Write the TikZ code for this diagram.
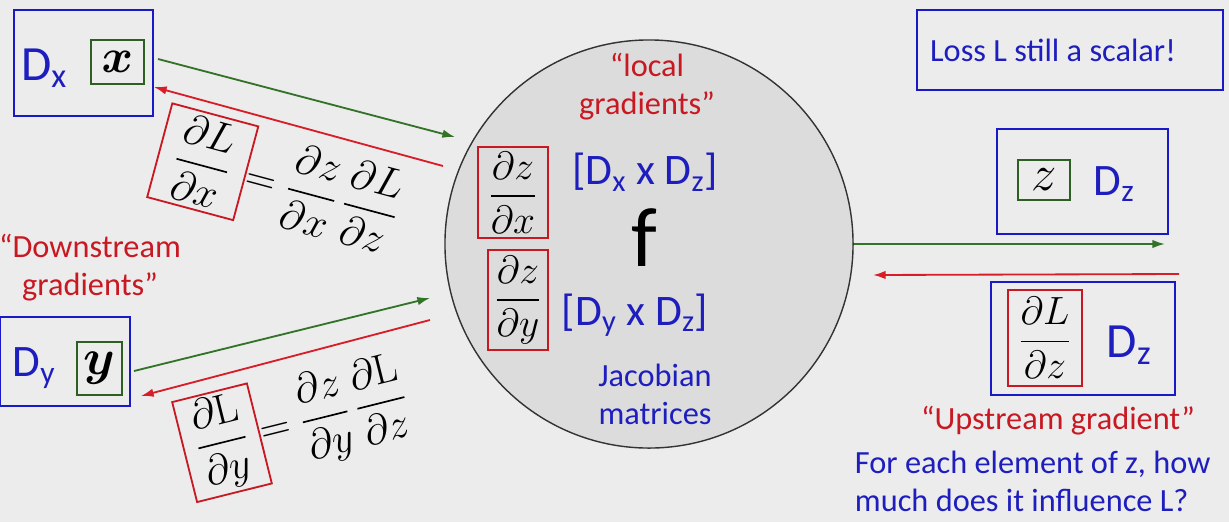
\RequirePackage{fix-cm}
\documentclass[tikz,border=0pt]{standalone}
\usepackage{amsmath,amssymb}
\usepackage[no-math]{fontspec}
\setmainfont{Carlito}
\usetikzlibrary{arrows.meta,calc,positioning}
\definecolor{SlideGray}{RGB}{236,236,236}
\definecolor{CircleGray}{RGB}{220,220,220}
\definecolor{DimBlue}{RGB}{25,25,200}
\definecolor{TextBlue}{RGB}{30,30,190}
\definecolor{GradRed}{RGB}{200,25,35}
\definecolor{VecGreen}{RGB}{45,95,35}
\definecolor{ArrowGreen}{RGB}{50,115,40}
\definecolor{ArrowRed}{RGB}{215,30,40}

\begin{document}
\begin{tikzpicture}[x=0.025cm,y=-0.025cm,
  dimbox/.style={draw=DimBlue,line width=1.4pt,inner sep=0pt},
  vecbox/.style={draw=VecGreen,line width=1.3pt,inner sep=0pt},
  gradbox/.style={draw=GradRed,line width=1.3pt,inner sep=0pt},
  bluetext/.style={text=TextBlue,font=\fontsize{23}{27}\selectfont,align=center},
  redtext/.style={text=GradRed,font=\fontsize{23}{27}\selectfont,align=center},
  fwd/.style={draw=ArrowGreen,line width=1.3pt,-{Latex[length=9pt,width=6pt]}},
  bwd/.style={draw=ArrowRed,line width=1.3pt,-{Latex[length=9pt,width=6pt]}},
  mathbig/.style={font=\fontsize{30}{34}\selectfont},
  mathmid/.style={font=\fontsize{28}{32}\selectfont}]
\fill[SlideGray] (0,0) rectangle (1229,522);
\useasboundingbox (0,0) rectangle (1229,522);

\node[circle,draw=black!80,fill=CircleGray,line width=1pt,minimum size=10.2cm,inner sep=0pt] (fnode) at (649,244) {};
\node[font=\fontsize{60}{64}\selectfont] (flab) at (644,238) {f};
\node[redtext] (localg) at (647,87) {“local\\gradients”};
\node[gradbox,mathmid,minimum width=1.75cm,minimum height=2.275cm] (dzdx) at (513,192.5) {$\dfrac{\partial z}{\partial x}$};
\node[gradbox,mathmid,minimum width=1.5cm,minimum height=2.5cm] (dzdy) at (518,300) {$\dfrac{\partial z}{\partial y}$};
\node[bluetext,font=\fontsize{31}{34}\selectfont] (jacx) at (645,172) {[D\textsubscript{x} x D\textsubscript{z}]};
\node[bluetext,font=\fontsize{31}{34}\selectfont] (jacy) at (635,315) {[D\textsubscript{y} x D\textsubscript{z}]};
\node[bluetext] (jacname) at (655,394) {Jacobian\\matrices};

\node[dimbox,minimum width=3.475cm,minimum height=2.65cm] (dxbox) at (83.5,63) {};
\node[text=TextBlue,font=\fontsize{35}{38}\selectfont] (dxlab) at (44,68) {D\textsubscript{x}};
\node[vecbox,minimum width=1.325cm,minimum height=1.1cm,font=\fontsize{34}{40}\selectfont] (xvec) at (117.5,62) {$\boldsymbol{x}$};
\coordinate (fxin) at (455,137);
\coordinate (fxout) at (443,166);
\draw[fwd] ($(dxbox.north east)+(4,50)$) -- (fxin);
\draw[bwd] (fxout) -- ($(dxbox.north east)+(0,78)$);
\node[gradbox,mathbig,rotate=-15,minimum width=2.225cm,minimum height=2.425cm] (dldx) at (202.75,161.75) {$\dfrac{\partial L}{\partial x}$};
\node[mathbig,rotate=-15,anchor=west,inner sep=0pt] (chainx) at (dldx.east) {$=\dfrac{\partial z}{\partial x}\,\dfrac{\partial L}{\partial z}$};

\node[redtext] (downg) at (90,268) {“Downstream\\gradients”};

\node[dimbox,minimum width=3.25cm,minimum height=2.225cm] (dybox) at (65,361.5) {};
\node[text=TextBlue,font=\fontsize{32}{36}\selectfont] (dylab) at (34,368) {D\textsubscript{y}};
\node[vecbox,minimum width=1.125cm,minimum height=1.325cm,font=\fontsize{36}{40}\selectfont] (yvec) at (99.5,368.5) {$\boldsymbol{y}$};
\coordinate (fyin) at (430,298);
\coordinate (fyout) at (430,320);
\draw[fwd] ($(dybox.east)+(3,9.5)$) -- (fyin);
\draw[bwd] (fyout) -- ($(dybox.east)+(10,34.5)$);
\node[gradbox,mathbig,rotate=14,minimum width=1.925cm,minimum height=2.575cm] (dldy) at (222,442.75) {$\dfrac{\partial \mathrm{L}}{\partial y}$};
\node[mathbig,rotate=14,anchor=west,inner sep=0pt] (chainy) at (dldy.east) {$=\dfrac{\partial z}{\partial y}\,\dfrac{\partial \mathrm{L}}{\partial z}$};

\node[dimbox,minimum width=7.65cm,minimum height=2cm] (lossbox) at (1070,50) {};
\node[bluetext] (losslab) at (1053,50) {Loss L still a scalar!};
\node[dimbox,minimum width=4.275cm,minimum height=2.625cm] (zbox) at (1082.5,181.5) {};
\node[vecbox,minimum width=1.3cm,minimum height=1cm,font=\fontsize{36}{40}\selectfont] (zvec) at (1044,180) {$z$};
\node[text=TextBlue,font=\fontsize{32}{34}\selectfont] (dzlab) at (1114,184) {D\textsubscript{z}};
\coordinate (zin) at (1165,244);
\coordinate (fzout) at (873,275);
\draw[fwd] (fnode.east) -- (zin);
\node[dimbox,minimum width=4.6cm,minimum height=2.825cm] (dlbox) at (1083,338.5) {};
\node[gradbox,mathmid,minimum width=1.85cm,minimum height=2.4cm] (dldz) at (1045,338) {$\dfrac{\partial L}{\partial z}$};
\node[text=TextBlue,font=\fontsize{35}{38}\selectfont] (dzlab2) at (1129,345) {D\textsubscript{z}};
\draw[bwd] ($(dlbox.north east)+(3,-7)$) -- (fzout);
\node[redtext] (upg) at (1058,421) {“Upstream gradient”};
\node[bluetext,align=left,anchor=west] (upnote) at (850,481) {For each element of z, how\\much does it influence L?};
\end{tikzpicture}
\end{document}
